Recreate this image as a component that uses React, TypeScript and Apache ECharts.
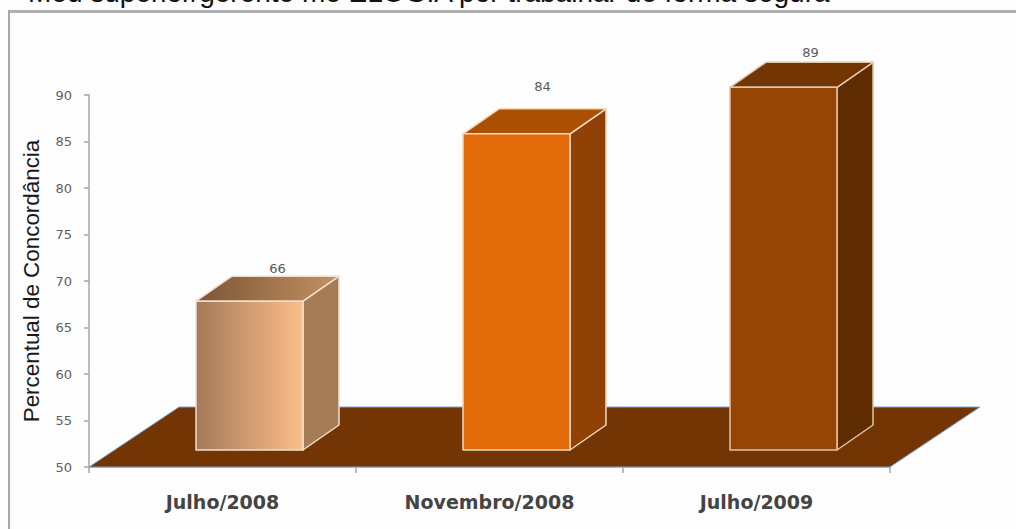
import React, { useEffect, useRef } from "react";
import * as echarts from "echarts";

const headline = "Meu superior/gerente me ELOGIA por trabalhar de forma segura";
const axisTitle = "Percentual de Concordância";
const periods = ["Julho/2008", "Novembro/2008", "Julho/2009"];
const agreement = [66, 84, 89];

// Extrusion of the columns and of the floor plate, in pixels.
const COLUMN_WIDTH = 107;
const COLUMN_SHIFT_X = 27;
const COLUMN_LIFT = 17;
const DEPTH_X = 36;
const DEPTH_Y = 25;
const FLOOR_DEPTH_X = 90;
const FLOOR_DEPTH_Y = 60;

const peachFront = new echarts.graphic.LinearGradient(0, 0, 1, 0, [
  { offset: 0, color: "#a57a58" },
  { offset: 1, color: "#fcbe88" },
]);
const peachTop = new echarts.graphic.LinearGradient(0, 0, 1, 0, [
  { offset: 0, color: "#7c5534" },
  { offset: 1, color: "#c39163" },
]);
const columnStyles = [
  { front: peachFront, side: "#a67c56", top: peachTop, edge: "#eedfd0" },
  { front: "#e26a09", side: "#8f4106", top: "#ab4f03", edge: "#f2d9c0" },
  { front: "#964505", side: "#5f2c02", top: "#723503", edge: "#e2c4a8" },
];
// Nudges of the value labels away from the column's top face.
const labelNudge = [
  [10, -8],
  [8, -22],
  [9, -10],
];

function renderFloor(params: any) {
  const { x, y, width, height } = params.coordSys;
  const bottom = y + height;
  return {
    type: "polygon",
    silent: true,
    shape: {
      points: [
        [x, bottom],
        [x + width, bottom],
        [x + width + FLOOR_DEPTH_X, bottom - FLOOR_DEPTH_Y],
        [x + FLOOR_DEPTH_X, bottom - FLOOR_DEPTH_Y],
      ],
    },
    style: { fill: "#723503", stroke: "#7fa6d6", lineWidth: 1 },
  };
}

function renderColumn(params: any, api: any) {
  const i = params.dataIndex;
  const look = columnStyles[i];
  const [cx, valueY] = api.coord([api.value(0), api.value(1)]);
  const [, baseY] = api.coord([api.value(0), 50]);
  const left = cx + COLUMN_SHIFT_X - COLUMN_WIDTH / 2;
  const right = left + COLUMN_WIDTH;
  const top = valueY - COLUMN_LIFT;
  const bottom = baseY - COLUMN_LIFT;
  const edge = { stroke: look.edge, lineWidth: 1.5, lineJoin: "round" };
  return {
    type: "group",
    children: [
      {
        type: "polygon",
        shape: {
          points: [
            [right, top],
            [right + DEPTH_X, top - DEPTH_Y],
            [right + DEPTH_X, bottom - DEPTH_Y],
            [right, bottom],
          ],
        },
        style: { fill: look.side, ...edge },
      },
      {
        type: "polygon",
        shape: {
          points: [
            [left, top],
            [left + DEPTH_X, top - DEPTH_Y],
            [right + DEPTH_X, top - DEPTH_Y],
            [right, top],
          ],
        },
        style: { fill: look.top, ...edge },
      },
      {
        type: "rect",
        shape: { x: left, y: top, width: COLUMN_WIDTH, height: bottom - top },
        style: { fill: look.front, ...edge },
      },
      {
        type: "text",
        style: {
          text: String(api.value(1)),
          x: (left + right + DEPTH_X) / 2 + labelNudge[i][0],
          y: top - DEPTH_Y + labelNudge[i][1],
          fill: "#5a5a5a",
          font: '13px "DejaVu Sans"',
          align: "center",
          verticalAlign: "middle",
        },
      },
    ],
  };
}

export default function App() {
  const ref = useRef<HTMLDivElement>(null);

  useEffect(() => {
    const chart = echarts.init(ref.current!, undefined, { renderer: "svg" });
    const axisStroke = { lineStyle: { color: "#a6a6a6", width: 1.5 } };
    chart.setOption({
      animation: false,
      backgroundColor: "#fdfdfd",
      grid: { left: 89, right: 126, top: 95, bottom: 62 },
      xAxis: {
        type: "category",
        data: periods,
        axisLine: axisStroke,
        axisTick: { show: true, length: 6, ...axisStroke },
        axisLabel: {
          color: "#444444",
          fontFamily: "DejaVu Sans",
          fontSize: 19,
          fontWeight: "bold",
          margin: 25,
        },
      },
      yAxis: {
        type: "value",
        min: 50,
        max: 90,
        interval: 5,
        name: axisTitle,
        nameLocation: "middle",
        nameGap: 47,
        nameTextStyle: { color: "#1a1a1a", fontFamily: "Liberation Sans", fontSize: 22.4 },
        splitLine: { show: false },
        axisLine: { show: true, ...axisStroke },
        axisTick: { show: true, length: 5, ...axisStroke },
        axisLabel: {
          color: "#5f5f5f",
          fontFamily: "DejaVu Sans",
          fontSize: 13,
          margin: 17,
        },
      },
      graphic: [
        { type: "rect", shape: { x: 8, y: 10, width: 1008, height: 3 }, style: { fill: "#b0b0b0" } },
        { type: "rect", shape: { x: 8, y: 10, width: 2, height: 519 }, style: { fill: "#a8a8a8" } },
        {
          type: "text",
          x: 28,
          y: -22,
          style: {
            text: headline,
            fill: "#111111",
            font: '28px "Liberation Sans"',
            verticalAlign: "top",
          },
        },
      ],
      series: [
        { type: "custom", renderItem: renderFloor, data: [[0, 50]], silent: true, z: 1 },
        {
          type: "custom",
          renderItem: renderColumn,
          data: agreement.map((v, i) => [i, v]),
          encode: { x: 0, y: 1 },
          z: 2,
        },
      ],
    });
    return () => chart.dispose();
  }, []);

  return (
    <div
      ref={ref}
      style={{ position: "absolute", left: 0, top: 0, width: 1016, height: 529 }}
    />
  );
}
